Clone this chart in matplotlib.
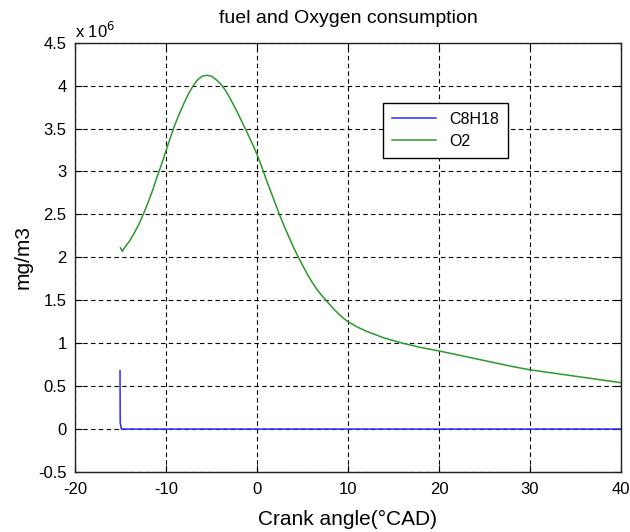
import matplotlib
matplotlib.use("Agg")
import matplotlib.pyplot as plt
from matplotlib.ticker import FuncFormatter, MultipleLocator

plt.rcParams['font.family'] = ['Liberation Sans', 'DejaVu Sans']
plt.rcParams['axes.unicode_minus'] = False

# Crank angle (deg CAD) and O2 concentration in units of 1e6 mg/m3
o2_angle = [-15.0, -14.8, -14.5, -14.0, -13.5, -13.0, -12.5, -12.0, -11.5, -11.0,
            -10.5, -10.0, -9.5, -9.0, -8.5, -8.0, -7.5, -7.0, -6.5, -6.0,
            -5.5, -5.0, -4.5, -4.0, -3.5, -3.0, -2.5, -2.0, -1.5, -1.0,
            -0.5, 0.0, 0.5, 1.0, 1.5, 2.0, 2.5, 3.0, 3.5, 4.0,
            4.5, 5.0, 5.5, 6.0, 6.5, 7.0, 7.5, 8.0, 8.5, 9.0,
            9.5, 10.0, 11.0, 12.0, 13.0, 14.0, 15.0, 16.0, 17.0, 18.0,
            19.0, 20.0, 22.0, 24.0, 26.0, 28.0, 30.0, 32.0, 34.0, 36.0,
            38.0, 40.0]
o2_conc = [2.11, 2.07, 2.12, 2.19, 2.28, 2.38, 2.50, 2.63, 2.77, 2.93,
           3.08, 3.24, 3.40, 3.55, 3.68, 3.80, 3.91, 4.00, 4.07, 4.11,
           4.12, 4.11, 4.07, 4.02, 3.95, 3.86, 3.76, 3.655, 3.545, 3.435,
           3.32, 3.20, 3.06, 2.91, 2.77, 2.63, 2.49, 2.36, 2.24, 2.12,
           2.01, 1.91, 1.81, 1.72, 1.64, 1.57, 1.51, 1.45, 1.39, 1.34,
           1.29, 1.25, 1.19, 1.14, 1.10, 1.06, 1.03, 1.00, 0.975, 0.95,
           0.93, 0.91, 0.865, 0.82, 0.775, 0.73, 0.69, 0.66, 0.63, 0.60,
           0.57, 0.54]

# Fuel (C8H18) concentration, same units
fuel_angle = [-15.05, -15.03, -14.95, -14.9, 40.0]
fuel_conc = [0.68, 0.07, 0.03, 0.0, 0.0]

x_ticks = [-20, -10, 0, 10, 20, 30, 40]

fig = plt.figure(figsize=(6.3, 5.32), dpi=100)
ax = fig.add_axes([0.119, 0.1128, 0.8667, 0.807])

ax.plot(fuel_angle, fuel_conc, color='#2b2bff', lw=1.1, label='C8H18')
ax.plot(o2_angle, o2_conc, color='#2a9a2a', lw=1.1, label='O2')

ax.set_xlim(-20, 40)
ax.set_ylim(-0.5, 4.5)
ax.set_xticks(x_ticks)
ax.yaxis.set_major_locator(MultipleLocator(0.5))
ax.yaxis.set_major_formatter(FuncFormatter(lambda v, p: '%g' % round(v, 2)))

ax.grid(True, color='black', linestyle=(0, (4, 3)), linewidth=0.8)
ax.tick_params(direction='in', top=True, right=True, length=5, width=0.8,
               labelsize=12)
ax.tick_params(axis='x', pad=7.5)
ax.tick_params(axis='y', pad=6)
for s in ax.spines.values():
    s.set_linewidth(1.0)
    s.set_color('#222222')

ax.set_title('fuel and Oxygen consumption', fontsize=14, pad=14)
ax.set_xlabel('Crank angle(°CAD)', fontsize=15, labelpad=9)
ax.set_ylabel('mg/m3', fontsize=15, labelpad=4)
ax.text(0.0, 1.005, r'x 10$^{6}$', transform=ax.transAxes, fontsize=12,
        ha='left', va='bottom')

leg = ax.legend(loc='upper left', bbox_to_anchor=(0.564, 0.860),
                borderaxespad=0, fancybox=False, framealpha=1,
                edgecolor='black', fontsize=11.5, handlelength=2.8,
                borderpad=0.55, labelspacing=0.45)
leg.get_frame().set_linewidth(1.0)

fig.savefig('out.png', dpi=100)
